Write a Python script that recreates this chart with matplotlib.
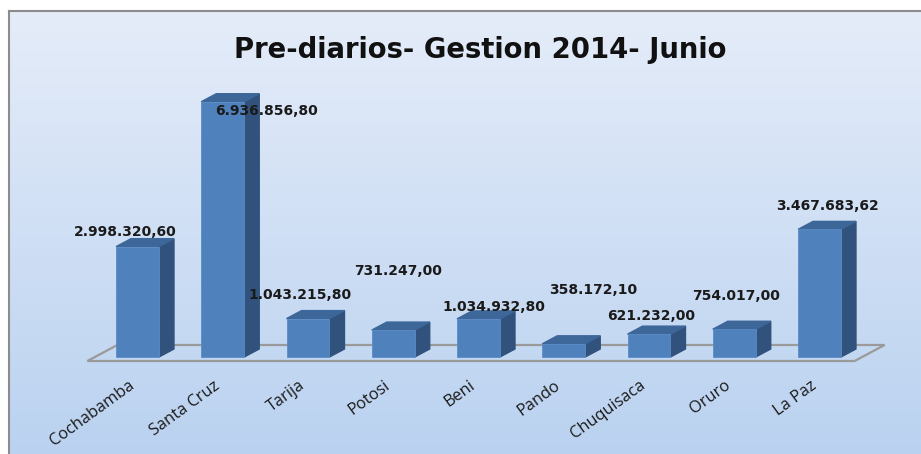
import numpy as np
import matplotlib
matplotlib.use("Agg")
import matplotlib.pyplot as plt
from matplotlib.patches import Polygon, Rectangle

# data
departamentos = ["Cochabamba", "Santa Cruz", "Tarija", "Potosi", "Beni",
                 "Pando", "Chuquisaca", "Oruro", "La Paz"]
montos = [2998320.60, 6936856.80, 1043215.80, 731247.00, 1034932.80,
          358172.10, 621232.00, 754017.00, 3467683.62]
etiquetas = ["2.998.320,60", "6.936.856,80", "1.043.215,80", "731.247,00",
             "1.034.932,80", "358.172,10", "621.232,00", "754.017,00",
             "3.467.683,62"]

# label placement (pixels relative to the top front centre of each bar)
label_offsets = [(-12, 15), (44, -9), (-8, 24), (5, 59), (15, 12),
                 (29, 54), (2, 18), (2, 33), (8, 23)]

W, H = 921, 454
fig = plt.figure(figsize=(W / 100, H / 100), dpi=100)

# background gradient + border
bg = fig.add_axes([0, 0, 1, 1])
grad = np.linspace(0, 1, 256).reshape(-1, 1)
top_c = np.array([230, 237, 249]) / 255
bot_c = np.array([186, 210, 240]) / 255
img = top_c + (bot_c - top_c) * grad[:, :, None]
bg.imshow(img, extent=[0, W, H, 0], aspect="auto")
bg.set_xlim(0, W)
bg.set_ylim(H, 0)
bg.add_patch(Rectangle((0, 0), W, 10, color="white", zorder=2))
bg.add_patch(Rectangle((0, 0), 8, H, color="white", zorder=2))
bg.plot([9, W], [10.5, 10.5], color="#8c8c8c", lw=1.5, zorder=3)
bg.plot([9, 9], [10.5, H], color="#8c8c8c", lw=1.5, zorder=3)
bg.axis("off")

# main axes: 85.25 px per category, 36.8 px per million, baseline at y=357
ax = fig.add_axes([0, 0, 1, 1])
ax.set_xlim(-137.5 / 85.25, (W - 137.5) / 85.25)
ax.set_ylim(-(H - 357) / 36.8 * 1e6, 357 / 36.8 * 1e6)
ax.axis("off")
ax.patch.set_alpha(0)

n = len(montos)
x = np.arange(n)
w = 0.504
ddx = 15 / 85.25
ddy = 8 / 36.8 * 1e6

# floor
floor = [(-0.5 - ddx / 2, -ddy / 2), (n - 0.5 - ddx / 2, -ddy / 2),
         (n - 0.5 + 1.5 * ddx, 1.5 * ddy), (-0.5 + 1.5 * ddx, 1.5 * ddy)]
ax.add_patch(Polygon(floor, closed=True, fill=False, edgecolor="#9a9a9a",
                     lw=1.6, zorder=1))

front_c = "#4f81bd"
side_c = "#30527c"
top_c2 = "#3d6699"

ax.bar(x, montos, width=w, color=front_c, edgecolor="#5b8bc6", lw=0.6, zorder=3)
for xi, v in zip(x, montos):
    r = xi + w / 2
    l = xi - w / 2
    ax.add_patch(Polygon([(r, 0), (r + ddx, ddy), (r + ddx, v + ddy), (r, v)],
                         closed=True, color=side_c, zorder=2))
    ax.add_patch(Polygon([(l, v), (r, v), (r + ddx, v + ddy), (l + ddx, v + ddy)],
                         closed=True, color=top_c2, zorder=2))

# value labels
for xi, v, t, (ox, oy) in zip(x, montos, etiquetas, label_offsets):
    ax.annotate(t, (xi, v), xytext=(ox, oy), textcoords="offset pixels",
                ha="center", va="center", fontsize=10, fontweight="bold",
                family="DejaVu Sans", color="#1a1a1a", zorder=5)

# category labels
for xi, name in zip(x, departamentos):
    ax.annotate(name, (xi, 0), xytext=(-5, -27), textcoords="offset pixels",
                ha="right", va="center", rotation=36, rotation_mode="anchor",
                fontsize=11.8, family="Open Sans", color="#1a1a1a")

fig.text(480 / W, 1 - 50 / H, "Pre-diarios- Gestion 2014- Junio",
         ha="center", va="center", fontsize=19.8, fontweight="bold",
         family="DejaVu Sans", color="#111111")

fig.savefig("out.png", dpi=100)
